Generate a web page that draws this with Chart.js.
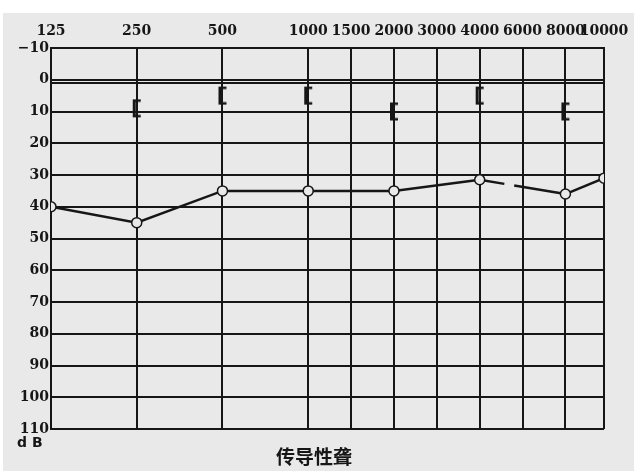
<!DOCTYPE html>
<html>
<head>
<meta charset="utf-8">
<script src="https://cdn.jsdelivr.net/npm/chart.js@4/dist/chart.umd.min.js"></script>
<style>
html, body { margin: 0; padding: 0; background: #fff; }
#panel { position: absolute; left: 3px; top: 13px; width: 631px; height: 458px; background: #e9e9e9; }
#wrap { position: absolute; left: 0; top: 0; width: 640px; height: 476px; }
</style>
</head>
<body>
<div id="panel"></div>
<div id="wrap"><canvas id="audiogram" width="640" height="476"></canvas></div>
<script>
// top axis frequencies (Hz) and the slot each one takes on the chart
const freqTicks = [125, 250, 500, 1000, 1500, 2000, 3000, 4000, 6000, 8000, 10000];
const freqSlots = [0, 1, 2, 3, 3.5, 4, 4.5, 5, 5.5, 6, 6.45];
const dbTicks = [-10, 0, 10, 20, 30, 40, 50, 60, 70, 80, 90, 100, 110];

// air conduction (circles)
const airFreqs = [125, 250, 500, 1000, 2000, 4000, 8000, 10000];
const airDb = [40, 45, 35, 35, 35, 31.5, 36, 31];

// bone conduction ( [ marks )
const boneFreqs = [250, 500, 1000, 2000, 4000, 8000];
const boneDb = [9, 5, 5, 10, 5, 10];

const slotOf = f => freqSlots[freqTicks.indexOf(f)];
const ink = '#161616';

function bracketMark() {
    const c = document.createElement('canvas');
    c.width = 14; c.height = 20;
    const g = c.getContext('2d');
    g.fillStyle = ink;
    g.fillRect(3, 1, 3, 18);
    g.fillRect(3, 1, 8, 2.5);
    g.fillRect(3, 16.5, 8, 2.5);
    return c;
}

// "dB" under the left axis and the caption under the grid
const captions = {
    id: 'captions',
    afterDraw(chart) {
        const ctx = chart.ctx;
        ctx.save();
        ctx.fillStyle = ink;
        ctx.font = 'bold 14px "DejaVu Sans"';
        ctx.textAlign = 'left';
        ctx.textBaseline = 'middle';
        ctx.fillText('d B', 17, 443);
        ctx.font = 'bold 19px "Noto Sans CJK SC"';
        ctx.textAlign = 'center';
        ctx.fillText('传导性聋', 314, 457);
        ctx.restore();
    }
};

const ctxAudio = document.getElementById('audiogram').getContext('2d');
const audiogram = new Chart(ctxAudio, {
    type: 'line',
    data: {
        datasets: [{
            label: 'air',
            data: airFreqs.map((f, i) => ({ x: slotOf(f), y: airDb[i] })),
            borderColor: ink,
            borderWidth: 2.5,
            tension: 0,
            pointRadius: 5,
            pointBorderWidth: 1.5,
            pointBorderColor: ink,
            pointBackgroundColor: '#e9e9e9',
            segment: {
                borderDash: c => c.p0DataIndex === 5 ? [25, 10, 200] : undefined
            }
        }, {
            label: 'bone',
            data: boneFreqs.map((f, i) => ({ x: slotOf(f), y: boneDb[i] })),
            showLine: false,
            pointStyle: bracketMark(),
            pointRadius: 8
        }]
    },
    options: {
        responsive: false,
        animation: false,
        layout: { padding: { left: 0, top: 0, right: 36, bottom: 47 } },
        plugins: {
            legend: { display: false },
            tooltip: { enabled: false }
        },
        scales: {
            x: {
                type: 'linear',
                position: 'top',
                min: 0,
                max: 6.45,
                afterFit: s => { s.height = 48; },
                afterBuildTicks: s => { s.ticks = freqSlots.map(v => ({ value: v })); },
                grid: { color: ink, lineWidth: 2, drawTicks: false },
                border: { color: ink, width: 2 },
                ticks: {
                    autoSkip: false,
                    maxRotation: 0,
                    padding: 8,
                    color: ink,
                    font: { family: '"DejaVu Serif"', size: 14, weight: 'bold' },
                    callback: (v, i) => String(freqTicks[i])
                }
            },
            y: {
                type: 'linear',
                reverse: true,
                min: -10,
                max: 110,
                afterFit: s => { s.width = 51; },
                afterBuildTicks: s => { s.ticks = dbTicks.concat([1]).map(v => ({ value: v })); },
                grid: { color: ink, lineWidth: 2, drawTicks: false },
                border: { color: ink, width: 2 },
                ticks: {
                    padding: 2,
                    color: ink,
                    font: { family: '"DejaVu Serif"', size: 14, weight: 'bold' },
                    callback: v => v === 1 ? '' : (v < 0 ? '\u2212' + Math.abs(v) : String(v))
                }
            }
        }
    },
    plugins: [captions]
});
</script>
</body>
</html>
